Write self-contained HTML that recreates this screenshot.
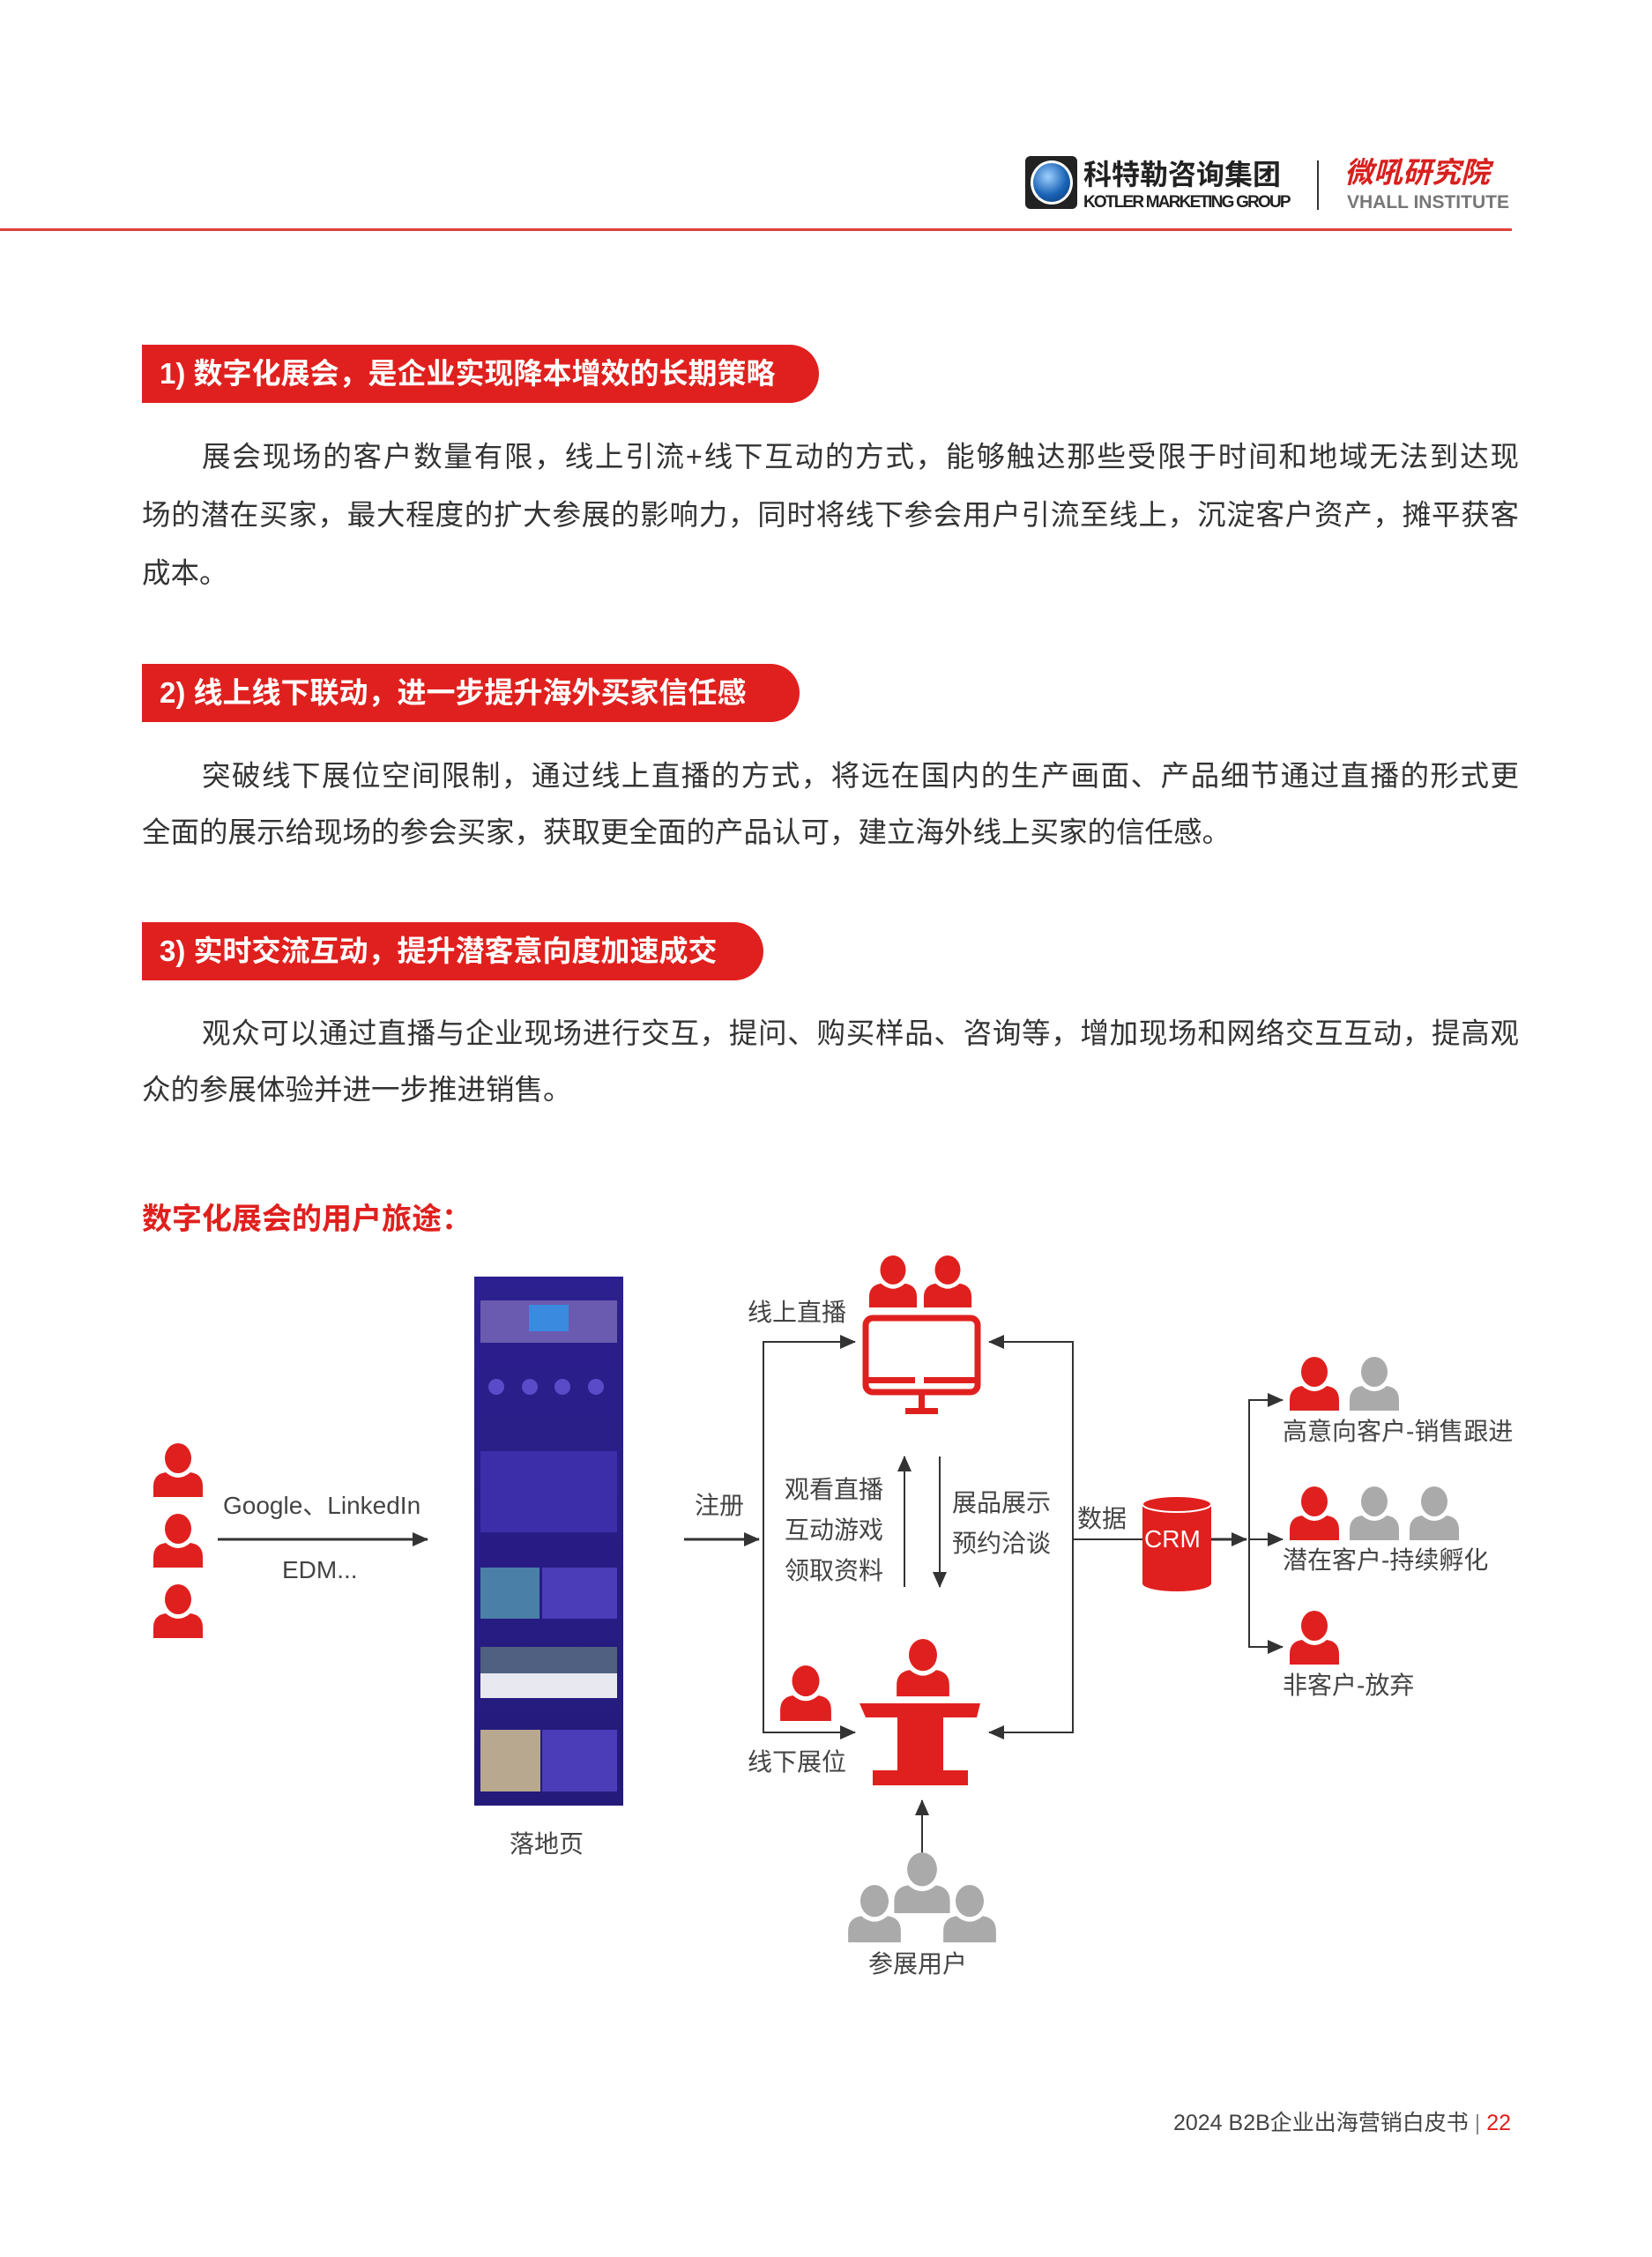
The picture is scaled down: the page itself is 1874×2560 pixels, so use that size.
<!DOCTYPE html>
<html><head><meta charset="utf-8">
<style>
html,body{margin:0;padding:0;background:#fff;}
body{width:1874px;height:2560px;position:relative;overflow:hidden;font-family:"Liberation Sans","Noto Sans CJK SC",sans-serif;color:#333;}
.a{position:absolute;white-space:nowrap;}
.pill{position:absolute;left:161px;background:#e0201e;color:#fff;font-weight:bold;font-size:33px;line-height:66px;height:66px;padding-left:20px;border-radius:0 33px 33px 0;box-sizing:border-box;}
.p{position:absolute;left:161px;width:1562px;font-size:32.5px;color:#333;text-align:justify;text-align-last:justify;white-space:nowrap;line-height:44px;}
.lbl{position:absolute;font-size:28px;color:#444;white-space:nowrap;line-height:34px;}
</style></head><body>

<!-- header -->
<div class="a" style="left:1163px;top:177px;width:59px;height:60px;background:#222;border-radius:6px;"></div>
<div class="a" style="left:1169px;top:182px;width:48px;height:50px;border-radius:50%;background:radial-gradient(circle at 40% 35%,#9fd0ff,#1a63b5 55%,#0b3570);border:3px solid #fff;box-sizing:border-box;"></div>
<div class="a" style="left:1229px;top:178px;font-size:32px;font-weight:bold;color:#222;line-height:40px;">科特勒咨询集团</div>
<div class="a" style="left:1229px;top:218px;font-size:19px;color:#222;letter-spacing:-1.8px;line-height:24px;font-weight:bold;">KOTLER MARKETING GROUP</div>
<div class="a" style="left:1494px;top:182px;width:2px;height:56px;background:#333;"></div>
<div class="a" style="left:1525px;top:176px;font-size:33px;font-weight:bold;font-style:italic;color:#d8201e;line-height:40px;">微吼研究院</div>
<div class="a" style="left:1528px;top:218px;font-size:21px;font-weight:bold;color:#777;line-height:24px;">VHALL INSTITUTE</div>
<div class="a" style="left:0;top:259px;width:1715px;height:3px;background:#e0403c;"></div>

<!-- section 1 -->
<div class="pill" style="top:391px;width:768px;">1) 数字化展会，是企业实现降本增效的长期策略</div>
<div class="p" style="top:496px;padding-left:68px;width:1494px;">展会现场的客户数量有限，线上引流+线下互动的方式，能够触达那些受限于时间和地域无法到达现</div>
<div class="p" style="top:562px;">场的潜在买家，最大程度的扩大参展的影响力，同时将线下参会用户引流至线上，沉淀客户资产，摊平获客</div>
<div class="p" style="top:628px;text-align-last:left;">成本。</div>

<!-- section 2 -->
<div class="pill" style="top:753px;width:746px;">2) 线上线下联动，进一步提升海外买家信任感</div>
<div class="p" style="top:858px;padding-left:68px;width:1494px;">突破线下展位空间限制，通过线上直播的方式，将远在国内的生产画面、产品细节通过直播的形式更</div>
<div class="p" style="top:922px;text-align-last:left;">全面的展示给现场的参会买家，获取更全面的产品认可，建立海外线上买家的信任感。</div>

<!-- section 3 -->
<div class="pill" style="top:1046px;width:705px;">3) 实时交流互动，提升潜客意向度加速成交</div>
<div class="p" style="top:1150px;padding-left:68px;width:1494px;">观众可以通过直播与企业现场进行交互，提问、购买样品、咨询等，增加现场和网络交互互动，提高观</div>
<div class="p" style="top:1214px;text-align-last:left;">众的参展体验并进一步推进销售。</div>

<div class="a" style="left:161px;top:1361px;font-size:34px;font-weight:bold;color:#e0201e;line-height:44px;">数字化展会的用户旅途：</div>

<!-- diagram -->
<svg class="a" style="left:0;top:0;" width="1874" height="2560" viewBox="0 0 1874 2560">
<defs>
<symbol id="pr" viewBox="0 0 60 62">
<ellipse cx="30" cy="18" rx="15" ry="17" fill="#e0201e"/>
<path d="M2 62 V50 Q2 36 16 34 Q30 46 44 34 Q58 36 58 50 V62 Z" fill="#e0201e"/>
</symbol>
<symbol id="pg" viewBox="0 0 60 62">
<ellipse cx="30" cy="18" rx="15" ry="17" fill="#aaa"/>
<path d="M2 62 V50 Q2 36 16 34 Q30 46 44 34 Q58 36 58 50 V62 Z" fill="#aaa"/>
</symbol>
<marker id="ab" markerWidth="18" markerHeight="16" refX="17" refY="8" orient="auto" markerUnits="userSpaceOnUse"><path d="M0 0 L18 8 L0 16 Z" fill="#333"/></marker>
<linearGradient id="lp" x1="0" y1="0" x2="0" y2="1"><stop offset="0" stop-color="#2c1f8f"/><stop offset="1" stop-color="#241a7a"/></linearGradient>
</defs>
<use href="#pr" x="172" y="1636" width="60" height="62"/>
<use href="#pr" x="172" y="1716" width="60" height="62"/>
<use href="#pr" x="172" y="1796" width="60" height="62"/>
<line x1="247" y1="1746" x2="485" y2="1746" stroke="#333" stroke-width="3" marker-end="url(#ab)"/>
<rect x="538" y="1448" width="169" height="600" fill="url(#lp)"/>
<rect x="545" y="1475" width="155" height="48" fill="#6a5bb0"/>
<rect x="600" y="1480" width="45" height="30" fill="#3a8ae0"/>
<g fill="#5a4cc8"><circle cx="563" cy="1573" r="9"/><circle cx="601" cy="1573" r="9"/><circle cx="638" cy="1573" r="9"/><circle cx="676" cy="1573" r="9"/></g>
<rect x="545" y="1646" width="155" height="92" fill="#3b2ea8"/>
<rect x="545" y="1778" width="67" height="58" fill="#4a7fa8"/>
<rect x="615" y="1778" width="85" height="58" fill="#4b3cb8"/>
<rect x="545" y="1868" width="155" height="58" fill="#e8e8f0"/>
<rect x="545" y="1868" width="155" height="30" fill="#506080"/>
<rect x="545" y="1962" width="68" height="70" fill="#b8a890"/>
<rect x="615" y="1962" width="85" height="70" fill="#4b3cb8"/>
<line x1="776" y1="1746" x2="861" y2="1746" stroke="#333" stroke-width="3" marker-end="url(#ab)"/>
<polyline points="970,1522 866,1522 866,1965 970,1965" fill="none" stroke="#333" stroke-width="2"/>
<line x1="940" y1="1522" x2="970" y2="1522" stroke="#333" stroke-width="2" marker-end="url(#ab)"/>
<line x1="940" y1="1965" x2="970" y2="1965" stroke="#333" stroke-width="2" marker-end="url(#ab)"/>
<polyline points="1126,1522 1217,1522 1217,1965 1126,1965" fill="none" stroke="#333" stroke-width="2"/>
<line x1="1150" y1="1522" x2="1122" y2="1522" stroke="#333" stroke-width="2" marker-end="url(#ab)"/>
<line x1="1150" y1="1965" x2="1122" y2="1965" stroke="#333" stroke-width="2" marker-end="url(#ab)"/>
<use href="#pr" x="984" y="1418" width="58" height="70"/>
<use href="#pr" x="1046" y="1418" width="58" height="70"/>
<rect x="982" y="1495" width="127" height="84" rx="8" fill="none" stroke="#e0201e" stroke-width="7"/>
<rect x="982" y="1562" width="56" height="7" fill="#e0201e"/>
<rect x="1048" y="1562" width="61" height="7" fill="#e0201e"/>
<rect x="1042" y="1581" width="7" height="18" fill="#e0201e"/>
<rect x="1027" y="1597" width="37" height="7" fill="#e0201e"/>
<line x1="1026" y1="1800" x2="1026" y2="1652" stroke="#333" stroke-width="2" marker-end="url(#ab)"/>
<line x1="1066" y1="1652" x2="1066" y2="1800" stroke="#333" stroke-width="2" marker-end="url(#ab)"/>
<line x1="1217" y1="1746" x2="1296" y2="1746" stroke="#333" stroke-width="2"/>
<path d="M1296 1706 V1796 A39 9 0 0 0 1374 1796 V1706 Z" fill="#e0201e"/>
<ellipse cx="1335" cy="1706" rx="39" ry="9" fill="#e0201e" stroke="#fff" stroke-width="2"/>
<line x1="1374" y1="1746" x2="1414" y2="1746" stroke="#333" stroke-width="3" marker-end="url(#ab)"/>
<polyline points="1455,1588 1417,1588 1417,1868 1455,1868" fill="none" stroke="#333" stroke-width="2"/>
<line x1="1430" y1="1588" x2="1455" y2="1588" stroke="#333" stroke-width="2" marker-end="url(#ab)"/>
<line x1="1417" y1="1746" x2="1455" y2="1746" stroke="#333" stroke-width="2" marker-end="url(#ab)"/>
<line x1="1430" y1="1868" x2="1455" y2="1868" stroke="#333" stroke-width="2" marker-end="url(#ab)"/>
<use href="#pr" x="1461" y="1538" width="60" height="62"/>
<use href="#pg" x="1529" y="1538" width="60" height="62"/>
<use href="#pr" x="1461" y="1685" width="60" height="62"/>
<use href="#pg" x="1529" y="1685" width="60" height="62"/>
<use href="#pg" x="1597" y="1685" width="60" height="62"/>
<use href="#pr" x="1461" y="1826" width="60" height="62"/>
<use href="#pr" x="1015" y="1850" width="64" height="82"/>
<use href="#pr" x="882" y="1888" width="64" height="64"/>
<path d="M975 1932 H1112 L1108 1948 H1070 V2008 H1098 V2025 H990 V2008 H1018 V1948 H982 Z" fill="#e0201e"/>
<line x1="1046" y1="2104" x2="1046" y2="2042" stroke="#333" stroke-width="2" marker-end="url(#ab)"/>
<use href="#pg" x="1008" y="2100" width="76" height="70"/>
<use href="#pg" x="960" y="2134" width="64" height="72"/>
<use href="#pg" x="1068" y="2134" width="64" height="72"/>
</svg>

<div class="lbl" style="left:253px;top:1691px;">Google、LinkedIn</div>
<div class="lbl" style="left:320px;top:1764px;">EDM...</div>
<div class="lbl" style="left:578px;top:2075px;">落地页</div>
<div class="lbl" style="left:788px;top:1691px;">注册</div>
<div class="lbl" style="left:848px;top:1472px;">线上直播</div>
<div class="lbl" style="left:890px;top:1673px;">观看直播</div>
<div class="lbl" style="left:890px;top:1719px;">互动游戏</div>
<div class="lbl" style="left:890px;top:1765px;">领取资料</div>
<div class="lbl" style="left:1080px;top:1688px;">展品展示</div>
<div class="lbl" style="left:1080px;top:1734px;">预约洽谈</div>
<div class="lbl" style="left:1222px;top:1706px;">数据</div>
<div class="lbl" style="left:1298px;top:1729px;color:#fff;">CRM</div>
<div class="lbl" style="left:1455px;top:1607px;">高意向客户-销售跟进</div>
<div class="lbl" style="left:1455px;top:1753px;">潜在客户-持续孵化</div>
<div class="lbl" style="left:1455px;top:1895px;">非客户-放弃</div>
<div class="lbl" style="left:848px;top:1982px;">线下展位</div>
<div class="lbl" style="left:985px;top:2211px;">参展用户</div>

<div class="a" style="right:160px;top:2392px;font-size:25px;color:#444;line-height:32px;">2024 B2B企业出海营销白皮书 <span style="color:#888">|</span> <span style="color:#e0201e">22</span></div>
</body></html>
